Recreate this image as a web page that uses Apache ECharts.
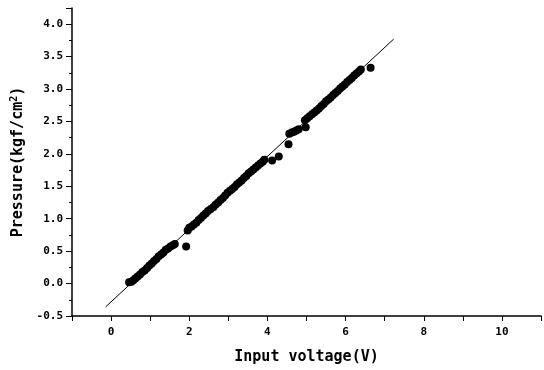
<!DOCTYPE html>
<html>
<head>
<meta charset="utf-8">
<script src="https://cdn.jsdelivr.net/npm/echarts@6/dist/echarts.min.js"></script>
<style>html,body{margin:0;padding:0;background:#fff}#c{width:544px;height:370px}</style>
</head>
<body>
<div id="c"></div>
<script>
// Measured points: input voltage (V)
var voltage = [
  0.46,0.52,0.57,0.62,0.68,0.74,0.80,0.86,0.92,0.98,1.04,1.10,1.16,1.22,1.28,1.34,1.40,1.46,1.52,1.58,1.63,
  1.92,
  1.96,2.00,2.06,2.12,2.18,2.24,2.30,2.36,2.42,2.48,2.55,2.62,2.68,2.74,2.80,2.86,2.92,2.98,3.04,3.10,3.16,3.22,3.28,3.34,3.40,3.46,3.52,3.58,3.64,3.70,3.76,3.82,3.88,3.92,
  4.12,4.29,4.54,
  4.56,4.62,4.68,4.74,4.80,
  4.96,4.98,5.02,5.08,5.14,5.20,5.26,5.32,5.38,5.44,5.50,5.56,5.62,5.68,5.74,5.80,5.86,5.92,5.98,6.04,6.10,6.16,6.22,6.28,6.34,6.39,
  6.64
];
// Measured points: pressure (kgf/cm^2)
var pressure = [
  0.02,0.03,0.05,0.08,0.11,0.14,0.18,0.20,0.24,0.28,0.31,0.35,0.38,0.42,0.45,0.48,0.52,0.54,0.57,0.59,0.61,
  0.57,
  0.82,0.86,0.88,0.91,0.94,0.98,1.01,1.05,1.08,1.12,1.15,1.18,1.22,1.25,1.29,1.32,1.36,1.40,1.43,1.46,1.49,1.53,1.56,1.59,1.63,1.66,1.70,1.73,1.76,1.79,1.82,1.85,1.88,1.91,
  1.90,1.96,2.15,
  2.31,2.33,2.34,2.36,2.38,
  2.52,2.41,2.55,2.58,2.61,2.64,2.67,2.70,2.74,2.77,2.81,2.84,2.87,2.91,2.94,2.97,3.01,3.04,3.07,3.11,3.14,3.17,3.21,3.24,3.27,3.30,
  3.33
];
// Fitted line endpoints
var fitX = [-0.14, 7.23];
var fitY = [-0.36, 3.77];
var xTickLabels = ['0','2','4','6','8','10'];
var yTickLabels = ['-0.5','0.0','0.5','1.0','1.5','2.0','2.5','3.0','3.5','4.0'];

var pts = voltage.map(function(v,i){return [v, pressure[i]];});
var fit = fitX.map(function(v,i){return [v, fitY[i]];});
var font = '"DejaVu Sans Mono", monospace';

var chart = echarts.init(document.getElementById('c'), null, {renderer:'canvas'});
chart.setOption({
  backgroundColor:'#fff',
  animation:false,
  grid:{left:72, top:8, width:476, bottom:54, containLabel:false},
  xAxis:{
    type:'value', min:-1, max:11, interval:1,
    name:'Input voltage(V)', nameLocation:'middle', nameGap:34,
    nameTextStyle:{fontFamily:font, fontWeight:'bold', fontSize:15, color:'#000'},
    axisLine:{onZero:false, lineStyle:{color:'#000', width:1.5}},
    axisTick:{show:true, inside:false, length:5, lineStyle:{color:'#000', width:1}},
    axisLabel:{fontFamily:font, fontWeight:'bold', fontSize:11, color:'#000', margin:11,
      formatter:function(v){var s=String(Math.round(v)); return xTickLabels.indexOf(s)>=0 && Math.abs(v-Math.round(v))<1e-6 ? s : '';}},
    splitLine:{show:false}
  },
  yAxis:{
    type:'value', min:-0.5, max:4.25, interval:0.5,
    name:'{a|Pressure(kgf/cm}{s|2}{a|)}', nameLocation:'middle', nameGap:44, nameRotate:90,
    nameTextStyle:{rich:{
      a:{fontFamily:font, fontWeight:'bold', fontSize:15, color:'#000'},
      s:{fontFamily:font, fontWeight:'bold', fontSize:10, color:'#000', verticalAlign:'top', padding:[0,0,8,0]}
    }},
    axisLine:{onZero:false, lineStyle:{color:'#000', width:1.5}},
    axisTick:{show:true, inside:false, length:6, lineStyle:{color:'#000', width:1}},
    minorTick:{show:true, splitNumber:2, length:3, lineStyle:{color:'#000'}},
    axisLabel:{fontFamily:font, fontWeight:'bold', fontSize:11, color:'#000', margin:9,
      formatter:function(v){var s=v.toFixed(1); return (Math.abs(v*2-Math.round(v*2))<1e-6 && yTickLabels.indexOf(s)>=0) ? s : '';}},
    splitLine:{show:false}
  },
  series:[
    {type:'line', data:fit, symbol:'none', lineStyle:{color:'#000', width:1}, silent:true},
    {type:'scatter', data:pts, symbol:'circle', symbolSize:8, itemStyle:{color:'#000', opacity:1}}
  ]
});
</script>
</body>
</html>
